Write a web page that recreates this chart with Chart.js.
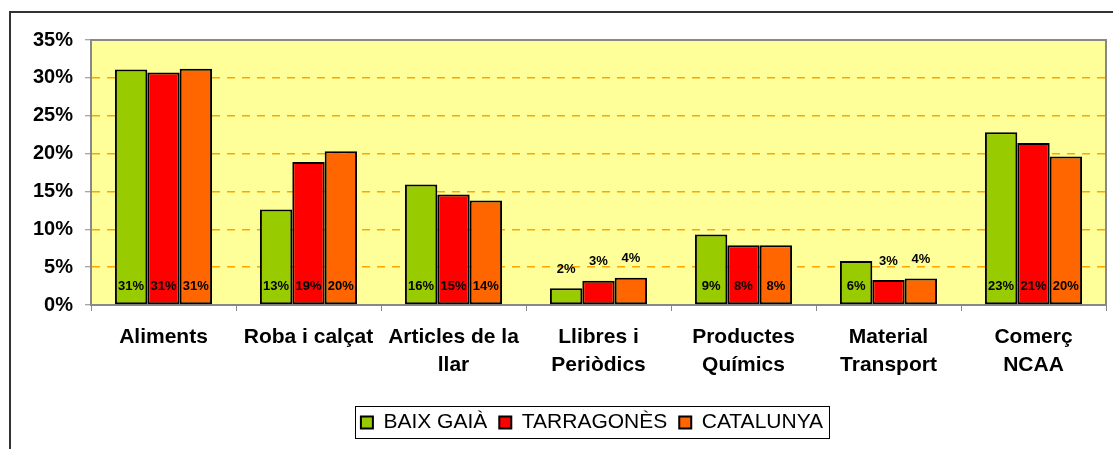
<!DOCTYPE html>
<html>
<head>
<meta charset="utf-8">
<script src="https://cdn.jsdelivr.net/npm/chart.js@4/dist/chart.umd.min.js"></script>
<style>
  body { margin: 0; background: #fff; }
  canvas { display: block; }
</style>
</head>
<body>
<canvas id="chart" width="1113" height="449"></canvas>
<script>
// categories (multi-line labels) and the three series, in %
var categories = [['Aliments'], ['Roba i calçat'], ['Articles de la', 'llar'], ['Llibres i', 'Periòdics'],
                  ['Productes', 'Químics'], ['Material', 'Transport'], ['Comerç', 'NCAA']];
var baixGaia   = [31.1, 12.6, 15.9, 2.2, 9.3, 5.8, 22.8];
var tarragones = [30.7, 18.9, 14.6, 3.2, 7.9, 3.3, 21.4];
var catalunya  = [31.2, 20.3, 13.8, 3.6, 7.9, 3.5, 19.6];
var seriesNames  = ['BAIX GAIÀ', 'TARRAGONÈS', 'CATALUNYA'];
var seriesColors = ['#99CC00', '#FF0000', '#FF6600'];
var yTicks = [0, 5, 10, 15, 20, 25, 30, 35];

Chart.defaults.font.family = '"Liberation Sans", Arial, sans-serif';
Chart.defaults.color = '#000';

function pct(v) {
  return Math.round(v) + '%';
}

var LEGEND_SHIFT = 39;

// yellow plot background, outer frame, plot border and a box round the legend
var framePlugin = {
  id: 'frame',
  afterLayout: function (chart) {
    // legend sits a little right of centre
    var lg = chart.legend;
    lg.left += LEGEND_SHIFT;
    lg.right += LEGEND_SHIFT;
    (lg.legendHitBoxes || []).forEach(function (h) { h.left += LEGEND_SHIFT; });
  },
  beforeDraw: function (chart) {
    var ctx = chart.ctx, a = chart.chartArea;
    ctx.save();
    ctx.fillStyle = '#FFFF99';
    ctx.fillRect(a.left, a.top, a.right - a.left, a.bottom - a.top);
    ctx.strokeStyle = '#333';
    ctx.lineWidth = 2;
    ctx.beginPath();
    ctx.moveTo(10, chart.height);
    ctx.lineTo(10, 12);
    ctx.lineTo(chart.width, 12);
    ctx.stroke();
    ctx.restore();
  },
  afterDraw: function (chart) {
    var ctx = chart.ctx, a = chart.chartArea;
    ctx.save();
    ctx.strokeStyle = '#888';
    ctx.lineWidth = 2;
    ctx.beginPath();
    ctx.moveTo(a.left, a.top);
    ctx.lineTo(a.right, a.top);
    ctx.lineTo(a.right, a.bottom);
    ctx.stroke();

    var boxes = chart.legend.legendHitBoxes;
    if (boxes && boxes.length) {
      var l = Infinity, r = -Infinity, t = Infinity, b = -Infinity;
      boxes.forEach(function (h) {
        l = Math.min(l, h.left); r = Math.max(r, h.left + h.width);
        t = Math.min(t, h.top); b = Math.max(b, h.top + h.height);
      });
      ctx.strokeStyle = '#000';
      ctx.lineWidth = 1;
      ctx.strokeRect(Math.round(l - 6) + 0.5, Math.round(t - 6) + 0.5, Math.round(r - l + 12), Math.round(b - t + 11));
    }
    ctx.restore();
  }
};

// value labels: at the foot of tall bars, above the short ones
var valueLabels = {
  id: 'valueLabels',
  afterDatasetsDraw: function (chart) {
    var ctx = chart.ctx;
    ctx.save();
    ctx.font = 'bold 13px "Liberation Sans", Arial, sans-serif';
    ctx.fillStyle = '#000';
    ctx.textAlign = 'center';
    ctx.textBaseline = 'middle';
    chart.data.datasets.forEach(function (ds, i) {
      chart.getDatasetMeta(i).data.forEach(function (bar, j) {
        var h = bar.base - bar.y;
        var y = h > 36 ? bar.base - 18 : bar.y - 19;
        ctx.fillText(pct(ds.data[j]), bar.x, y);
      });
    });
    ctx.restore();
  }
};

new Chart(document.getElementById('chart'), {
  type: 'bar',
  data: {
    labels: categories,
    datasets: [baixGaia, tarragones, catalunya].map(function (d, i) {
      return {
        label: seriesNames[i],
        data: d,
        backgroundColor: seriesColors[i],
        borderColor: '#000',
        borderWidth: 2,
        borderSkipped: false,
        barPercentage: 1,
        categoryPercentage: 0.67
      };
    })
  },
  options: {
    responsive: false,
    animation: false,
    layout: { padding: { top: 40, right: 7, left: 0, bottom: 6 } },
    plugins: {
      tooltip: { enabled: false },
      legend: {
        position: 'bottom',
        labels: {
          boxWidth: 12,
          boxHeight: 12,
          padding: 12,
          font: { size: 21 },
          color: '#000'
        }
      }
    },
    scales: {
      x: {
        afterFit: function (s) { s.height = 95; },
        grid: {
          offset: true,
          drawOnChartArea: false,
          drawTicks: true,
          tickLength: 6,
          tickColor: '#888'
        },
        border: { color: '#888', width: 2 },
        ticks: {
          autoSkip: false,
          maxRotation: 0,
          padding: 12,
          font: { size: 21, weight: 'bold', lineHeight: 1.333 }
        }
      },
      y: {
        min: 0,
        max: 35,
        afterFit: function (s) { s.width = 91; },
        afterBuildTicks: function (s) {
          s.ticks = yTicks.map(function (v) { return { value: v }; });
        },
        grid: {
          color: function (c) {
            var v = c.tick && c.tick.value;
            return (v > 0 && v < 35) ? '#FFA500' : 'rgba(0,0,0,0)';
          },
          lineWidth: 1.5,
          drawTicks: true,
          tickLength: 6,
          tickColor: '#888',
          tickWidth: 1
        },
        border: { color: '#888', width: 2, dash: [8, 7] },
        ticks: {
          padding: 12,
          font: { size: 20, weight: 'bold' },
          callback: function (v) { return v + '%'; }
        }
      }
    }
  },
  plugins: [framePlugin, valueLabels]
});
</script>
</body>
</html>
